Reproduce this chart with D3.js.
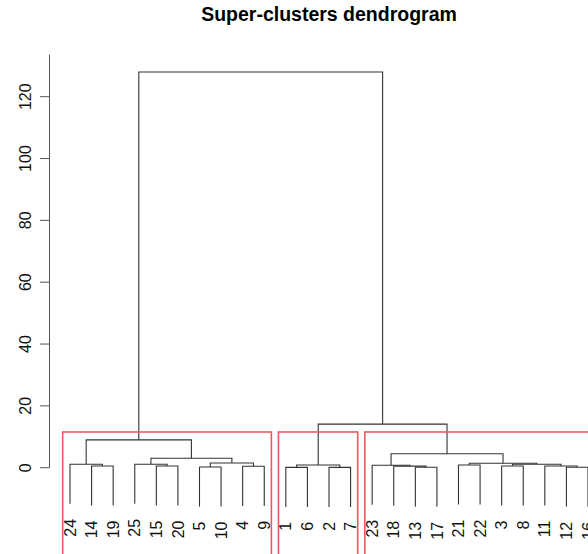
<!DOCTYPE html>
<html>
<head>
<meta charset="utf-8">
<script src="https://cdn.jsdelivr.net/npm/d3@7"></script>
<style>
  html, body { margin: 0; padding: 0; background: #fff; }
  svg { display: block; font-family: "Liberation Sans", Arial, Helvetica, sans-serif; }
</style>
</head>
<body>
<svg id="chart" width="588" height="554"></svg>
<script>
// Agglomeration steps, hclust style: negative = leaf label, positive = earlier step (1-based)
const mergeLeft   = [-13, -12, -1, -2, -5, -4, -18, -14, -15, -3, -11, -23, -21, 3, -24, -25, 10, 5, 13, 16, 12, 15, 14, 22];
const mergeRight  = [-17, -16, -6, -7, -10, -9, 1, -19, -20, -8, 2, 7, -22, 4, 8, 9, 11, 6, 17, 18, 19, 20, 21, 23];
const mergeHeight = [0.13, 0.13, 0.12, 0.12, 0.23, 0.45, 0.5, 0.55, 0.55, 0.55, 0.55, 0.8, 0.87, 0.87, 1.1, 1.1, 1.1, 1.5, 1.42, 3.05, 4.5, 9.0, 14.1, 128];

const yTicks = [0, 20, 40, 60, 80, 100, 120];
const titleText = "Super-clusters dendrogram";
const nClusters = 3;
const hang = 0.1;

const svg = d3.select("#chart");
const W = 588, H = 554;

// build tree from merge steps
function build(ref) {
  if (ref < 0) return { label: String(-ref), leaf: true };
  const i = ref - 1;
  return { leaf: false, height: mergeHeight[i], children: [build(mergeLeft[i]), build(mergeRight[i])] };
}
const root = d3.hierarchy(build(mergeLeft.length));
const leaves = root.leaves();
leaves.forEach((l, i) => { l.data.order = i + 1; });

const maxH = d3.max(mergeHeight);

// scales: leaf position and height
const x = d3.scaleLinear().domain([1, leaves.length]).range([70, 588]);
const y = d3.scaleLinear().domain([0, 120]).range([467.7, 96.7]);

// node positions
root.eachAfter(n => {
  if (!n.children) { n.pos = n.data.order; }
  else { n.pos = (n.children[0].pos + n.children[1].pos) / 2; n.h = n.data.height; }
});
leaves.forEach(l => { l.h = l.parent.data.height - hang * maxH; });

// title
svg.append("text")
  .attr("x", (x(1 - 0.04 * (leaves.length - 1)) + x(leaves.length + 0.04 * (leaves.length - 1))) / 2)
  .attr("y", 21)
  .attr("text-anchor", "middle")
  .attr("font-weight", "bold")
  .attr("font-size", 19.5)
  .attr("fill", "#000")
  .text(titleText);

// y axis
const plotTop = maxH + 0.04 * (maxH - d3.min(leaves, l => l.h));
const axisX = 49.5;
const ax = svg.append("g").attr("class", "y-axis");
ax.append("line")
  .attr("x1", axisX).attr("x2", axisX)
  .attr("y1", y(0)).attr("y2", y(plotTop))
  .attr("stroke", "#555").attr("stroke-width", 1);
yTicks.forEach(t => {
  ax.append("line")
    .attr("x1", axisX - 9.5).attr("x2", axisX)
    .attr("y1", y(t)).attr("y2", y(t))
    .attr("stroke", "#555").attr("stroke-width", 1);
  ax.append("text")
    .attr("transform", `translate(31,${y(t)}) rotate(-90)`)
    .attr("text-anchor", "middle")
    .attr("font-size", 16)
    .attr("fill", "#111")
    .text(t);
});

// dendrogram branches
const branches = svg.append("g").attr("fill", "none").attr("stroke", "#333").attr("stroke-width", 1.1);
root.each(n => {
  if (!n.children) return;
  const [a, b] = n.children;
  const path = d3.path();
  path.moveTo(x(a.pos), y(a.h));
  path.lineTo(x(a.pos), y(n.h));
  path.lineTo(x(b.pos), y(n.h));
  path.lineTo(x(b.pos), y(b.h));
  branches.append("path").attr("d", path.toString());
});

// leaf labels
svg.append("g").selectAll("text")
  .data(leaves)
  .join("text")
  .attr("transform", d => `translate(${x(d.pos)},${y(d.h) + 15}) rotate(-90)`)
  .attr("dy", "0.35em")
  .attr("text-anchor", "end")
  .attr("font-size", 16)
  .attr("fill", "#111")
  .text(d => d.data.label);

// cluster rectangles for k groups
const sortedH = mergeHeight.slice().sort((p, q) => q - p);
const cutH = (sortedH[nClusters - 2] + sortedH[nClusters - 1]) / 2;
const groups = [];
(function collect(n) {
  if (n.children && n.data.height > cutH) n.children.forEach(collect);
  else groups.push(n);
})(root);
let start = 0;
const rects = svg.append("g").attr("fill", "none").attr("stroke", "#ec5a60").attr("stroke-width", 1.6);
groups.forEach(g => {
  const size = g.leaves().length;
  const x0 = x(start + 0.66), x1 = x(start + size + 0.33);
  rects.append("rect")
    .attr("x", x0).attr("y", y(cutH))
    .attr("width", x1 - x0).attr("height", H + 20 - y(cutH));
  start += size;
});
</script>
</body>
</html>
